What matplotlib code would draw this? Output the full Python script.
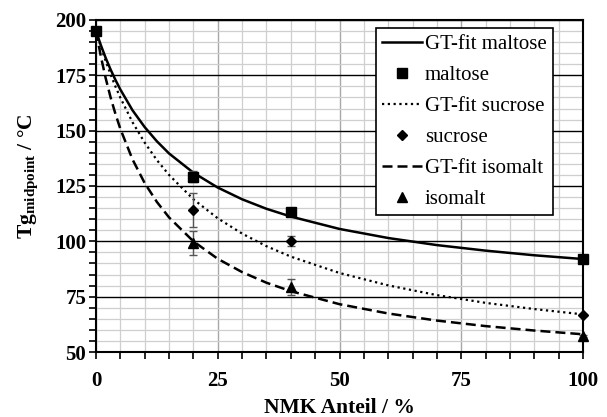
import matplotlib
matplotlib.use('Agg')
import matplotlib.pyplot as plt
from matplotlib.ticker import MultipleLocator

plt.rcParams['font.family'] = 'Liberation Serif'
plt.rcParams['mathtext.fontset'] = 'custom'
plt.rcParams['mathtext.rm'] = 'Liberation Serif:bold'
plt.rcParams['mathtext.bf'] = 'Liberation Serif:bold'

# measured points (x = NMK share in %)
x_meas = [0, 20, 40, 100]
maltose = [195, 129.2, 113.4, 91.8]
maltose_err = [1.0, 2.6, 1.0, 0.8]
x_sub = [20, 40, 100]
sucrose = [114.2, 100.2, 66.6]
sucrose_err = [7.5, 2.4, 0.5]
isomalt = [99.2, 79.4, 57.4]
isomalt_err = [5.4, 3.5, 0.5]

# GT-fit curves
x_fit = [0, 1, 2, 3, 4, 5, 7.5, 10, 12.5, 15, 20, 25, 30, 35, 40, 50, 60, 70, 80, 90, 100]
fit_maltose = [195, 188.6, 182.8, 177.6, 172.9, 168.6, 159.2, 151.6, 145.2, 139.7, 131.0,
               124.3, 119.0, 114.7, 111.2, 105.6, 101.5, 98.3, 95.8, 93.7, 92.0]
fit_sucrose = [195, 187.9, 181.4, 175.4, 169.9, 164.9, 153.8, 144.6, 136.7, 130.0, 119.0,
               110.4, 103.5, 97.8, 93.1, 85.7, 80.1, 75.7, 72.2, 69.4, 67.0]
fit_isomalt = [195, 183.5, 173.6, 165.0, 157.5, 150.8, 137.0, 126.3, 117.8, 110.8, 100.0,
               92.1, 86.1, 81.3, 77.5, 71.6, 67.4, 64.2, 61.7, 59.7, 58.0]

fig = plt.figure(figsize=(6.07, 4.17), dpi=100)
ax = fig.add_axes([96/607, 1 - 352/417, 487/607, 332/417])

ax.set_xlim(0, 100)
ax.set_ylim(50, 200)
ax.xaxis.set_major_locator(MultipleLocator(25))
ax.xaxis.set_minor_locator(MultipleLocator(5))
ax.yaxis.set_major_locator(MultipleLocator(25))
ax.yaxis.set_minor_locator(MultipleLocator(5))

ax.grid(which='minor', color='#cfcfcf', lw=0.9)
ax.grid(which='major', axis='x', color='#a8a8a8', lw=1.0)
ax.grid(which='major', axis='y', color='black', lw=1.0)
ax.set_axisbelow(True)

l1, = ax.plot(x_fit, fit_maltose, color='black', lw=1.8, zorder=3)
e1 = ax.errorbar(x_meas, maltose, yerr=maltose_err, fmt='s', ms=7.5, color='black',
                 ecolor='#555555', elinewidth=1, capsize=3, zorder=4, clip_on=False)
l2, = ax.plot(x_fit, fit_sucrose, color='black', lw=1.6, ls=(0, (1, 1.6)), zorder=3)
e2 = ax.errorbar(x_sub, sucrose, yerr=sucrose_err, fmt='D', ms=5.5, color='black',
                 ecolor='#555555', elinewidth=1, capsize=3, zorder=4, clip_on=False)
l3, = ax.plot(x_fit, fit_isomalt, color='black', lw=1.8, ls=(0, (4, 2)), zorder=3)
e3 = ax.errorbar(x_sub, isomalt, yerr=isomalt_err, fmt='^', ms=7.5, color='black',
                 ecolor='#555555', elinewidth=1, capsize=3, zorder=4, clip_on=False)

for s in ax.spines.values():
    s.set_linewidth(1.5)
    s.set_color('black')
    s.set_zorder(5)

ax.tick_params(which='both', direction='out', length=5, width=1.2, color='black')
ax.tick_params(axis='y', pad=2)
ax.tick_params(axis='x', pad=9)
for lab in ax.get_xticklabels() + ax.get_yticklabels():
    lab.set_fontsize(15)
    lab.set_fontweight('bold')

ax.set_xlabel('NMK Anteil / %', fontsize=15.5, fontweight='bold')
ax.xaxis.set_label_coords(0.5, -0.14)
ax.set_ylabel(r'$\mathbf{Tg}_{\mathbf{midpoint}}$ / °C', fontsize=15.5, fontweight='bold')
ax.yaxis.set_label_coords(-0.112, 0.53)

handles = [l1, e1[0], l2, e2[0], l3, e3[0]]
labels = ['GT-fit maltose', 'maltose', 'GT-fit sucrose', 'sucrose', 'GT-fit isomalt', 'isomalt']
leg = ax.legend(handles, labels, loc='upper right', bbox_to_anchor=(0.938, 0.976),
                borderaxespad=0, fontsize=15, fancybox=False, framealpha=1,
                edgecolor='black', handlelength=1.9, handletextpad=0.15,
                labelspacing=0.55, borderpad=0.3)
leg.get_frame().set_linewidth(1.2)
leg.set_zorder(6)

fig.savefig('out.png', dpi=100)
